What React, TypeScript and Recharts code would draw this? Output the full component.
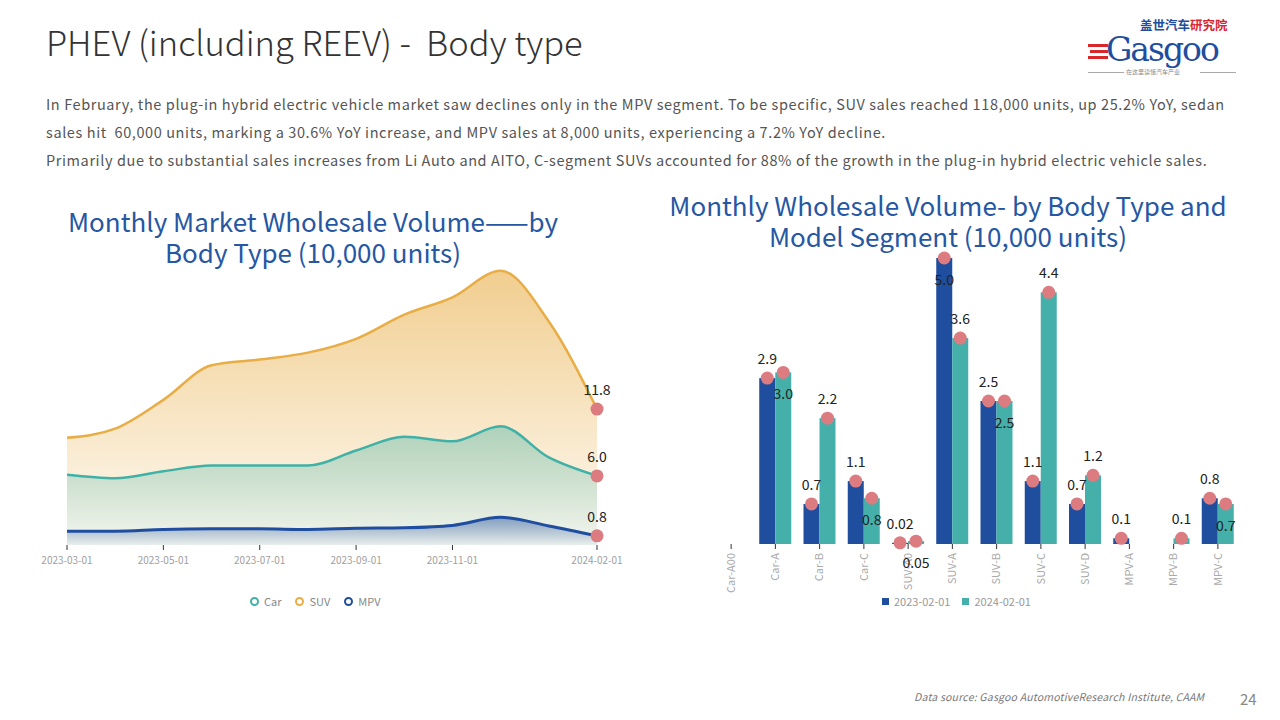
import React from 'react';
import { AreaChart, Area, BarChart, Bar, XAxis, YAxis, LabelList } from 'recharts';

// monthly wholesale by body type, 10,000 units
const months = [
  '2023-03-01', '2023-04-01', '2023-05-01', '2023-06-01', '2023-07-01', '2023-08-01',
  '2023-09-01', '2023-10-01', '2023-11-01', '2023-12-01', '2024-01-01', '2024-02-01',
];
const suvSales = [9.3, 10.1, 12.6, 15.6, 16.1, 16.7, 17.9, 20.0, 21.5, 23.8, 19.4, 11.8];
const carSales = [6.1, 5.8, 6.4, 6.9, 6.9, 6.9, 8.2, 9.4, 9.0, 10.3, 7.6, 6.0];
const mpvSales = [1.2, 1.2, 1.35, 1.4, 1.4, 1.35, 1.45, 1.5, 1.7, 2.4, 1.65, 0.8];
const monthTicks = [0, 2, 4, 6, 8, 11];

// by body type and segment
const segments = ['Car-A00', 'Car-A', 'Car-B', 'Car-C', 'SUV-A0', 'SUV-A', 'SUV-B', 'SUV-C', 'SUV-D', 'MPV-A', 'MPV-B', 'MPV-C'];
const feb2023 = [null, 2.9, 0.7, 1.1, 0.02, 5.0, 2.5, 1.1, 0.7, 0.1, null, 0.8];
const feb2024 = [null, 3.0, 2.2, 0.8, 0.05, 3.6, 2.5, 4.4, 1.2, null, 0.1, 0.7];

const FONT = '"Noto Sans CJK SC", "Noto Sans", sans-serif';
const DOT = '#dc7b80';
const C_SUV = '#e8ad45';
const C_CAR = '#3fb1a6';
const C_MPV = '#1f4ea0';
const C_DARK = '#1f4e9e';
const C_TEAL = '#45b0aa';

const areaData = months.map((m, i) => ({ idx: i, month: m, suv: suvSales[i], car: carSales[i], mpv: mpvSales[i] }));
const barData = segments.map((s, i) => ({ segment: s, y2023: feb2023[i], y2024: feb2024[i] }));

const last = months.length - 1;

const endDot = (p: any) =>
  p.index === last ? <circle key={'d' + p.index} cx={p.cx} cy={p.cy} r={6.5} fill={DOT} /> : null;

const endLabel = (p: any) => {
  if (p.index !== last) return null;
  return (
    <text x={p.x} y={p.y - 20} textAnchor="middle" dominantBaseline="central" fontSize={14} fill="#222">
      {Number(p.value).toFixed(1)}
    </text>
  );
};

const fmt = (v: number) => (v < 0.1 ? v.toFixed(2) : v.toFixed(1));

const BarWithDot = (p: any) => {
  if (p.value == null || p.height == null || isNaN(p.height)) return null;
  const v = Array.isArray(p.value) ? p.value[1] : p.value;
  if (v == null) return null;
  return (
    <g>
      <rect x={p.x} y={p.y} width={p.width} height={Math.max(p.height, 0)} fill={p.fill} />
      <circle cx={p.x + p.width / 2} cy={p.y} r={6.5} fill={DOT} />
    </g>
  );
};

const BAR_TOP = 18;

// label value is the whole row, so both series can be compared
const label2023 = (p: any) => {
  const row = p.value;
  if (!row || row.y2023 == null) return null;
  const cx = p.x + p.width / 2;
  let ty = p.y - 20;
  if (ty < BAR_TOP) ty = p.y + 21;
  return (
    <text x={cx} y={ty} textAnchor="middle" dominantBaseline="central" fontSize={14} fill="#222">
      {fmt(row.y2023)}
    </text>
  );
};

const label2024 = (p: any) => {
  const row = p.value;
  if (!row || row.y2024 == null) return null;
  const cx = p.x + p.width / 2;
  // push down when it would collide with the neighbour label
  const below = row.y2023 != null && Math.abs(row.y2023 - row.y2024) < 0.35;
  const ty = below ? p.y + 21 : p.y - 20;
  return (
    <text x={cx} y={ty} textAnchor="middle" dominantBaseline="central" fontSize={14} fill="#222">
      {fmt(row.y2024)}
    </text>
  );
};

const SegmentTick = (p: any) => (
  <text
    transform={`translate(${p.x},${p.y + 2}) rotate(-90)`}
    textAnchor="end"
    dy="0.35em"
    fontSize={11}
    fill="#aaa"
    fontFamily={FONT}
  >
    {p.payload.value}
  </text>
);

function Ring({ color }: { color: string }) {
  return (
    <span style={{ display: 'inline-block', width: 5, height: 5, borderRadius: '50%', border: `2px solid ${color}`, marginRight: 5 }} />
  );
}

function Square({ color }: { color: string }) {
  return <span style={{ display: 'inline-block', width: 7, height: 7, background: color, marginRight: 5 }} />;
}

const titleStyle: React.CSSProperties = {
  position: 'absolute',
  textAlign: 'center',
  color: '#2657a3',
  fontSize: 26,
  lineHeight: '30px',
  height: 30,
  fontFamily: FONT,
  whiteSpace: 'nowrap',
};

export default function App() {
  return (
    <div style={{ position: 'absolute', left: 0, top: 0, width: 1280, height: 720, background: '#fff', fontFamily: FONT, overflow: 'hidden' }}>
      <div style={{ position: 'absolute', left: 46, top: 18, fontSize: 34.5, lineHeight: '46px', color: '#333', fontWeight: 300, whiteSpace: 'pre' }}>
        {'PHEV (including REEV) -  Body type'}
      </div>

      {/* logo */}
      <div style={{ position: 'absolute', left: 1140, top: 17, fontSize: 12.5, fontWeight: 700, lineHeight: '15px', whiteSpace: 'nowrap' }}>
        <span style={{ color: '#1f4e9e' }}>盖世汽车</span>
        <span style={{ color: '#d9262b' }}>研究院</span>
      </div>
      <div style={{ position: 'absolute', left: 1088, top: 44, width: 20, height: 3, background: '#d9262b' }} />
      <div style={{ position: 'absolute', left: 1090, top: 50, width: 18, height: 3, background: '#d9262b' }} />
      <div style={{ position: 'absolute', left: 1088, top: 56, width: 20, height: 3, background: '#d9262b' }} />
      <div style={{ position: 'absolute', left: 1106, top: 35, fontSize: 33, lineHeight: '30px', height: 30, color: '#1f4e9e', fontFamily: '"DejaVu Serif", serif', letterSpacing: -2 }}>
        Gasgoo
      </div>
      <div style={{ position: 'absolute', left: 1088, top: 72, width: 36, height: 1, background: '#aaa' }} />
      <div style={{ position: 'absolute', left: 1200, top: 72, width: 36, height: 1, background: '#aaa' }} />
      <div style={{ position: 'absolute', left: 1126, top: 68, fontSize: 6, lineHeight: '8px', color: '#888' }}>在这里读懂汽车产业</div>

      <div style={{ position: 'absolute', left: 46, top: 90, fontSize: 14.5, lineHeight: '28px', color: '#555', whiteSpace: 'pre', letterSpacing: 0.6 }}>
        In February, the plug-in hybrid electric vehicle market saw declines only in the MPV segment. To be specific, SUV sales reached 118,000 units, up 25.2% YoY, sedan
        <br />
        {'sales hit  60,000 units, marking a 30.6% YoY increase, and MPV sales at 8,000 units, experiencing a 7.2% YoY decline.'}
        <br />
        Primarily due to substantial sales increases from Li Auto and AITO, C-segment SUVs accounted for 88% of the growth in the plug-in hybrid electric vehicle sales.
      </div>

      <div style={{ ...titleStyle, left: 13, top: 206, width: 600 }}>Monthly Market Wholesale Volume——by</div>
      <div style={{ ...titleStyle, left: 13, top: 237, width: 600 }}>Body Type (10,000 units)</div>

      <div style={{ ...titleStyle, left: 628, top: 190, width: 640 }}>Monthly Wholesale Volume- by Body Type and</div>
      <div style={{ ...titleStyle, left: 628, top: 221, width: 640 }}>Model Segment (10,000 units)</div>

      <div style={{ position: 'absolute', left: 0, top: 240 }}>
        <AreaChart width={660} height={340} data={areaData} margin={{ top: 17, right: 63, left: 67, bottom: 5 }} style={{ fontFamily: FONT }}>
          <defs>
            <linearGradient id="gSuv" x1="0" y1="0" x2="0" y2="1">
              <stop offset="0%" stopColor={C_SUV} stopOpacity={0.6} />
              <stop offset="100%" stopColor={C_SUV} stopOpacity={0.06} />
            </linearGradient>
            <linearGradient id="gCar" x1="0" y1="0" x2="0" y2="1">
              <stop offset="0%" stopColor={C_CAR} stopOpacity={0.4} />
              <stop offset="100%" stopColor={C_CAR} stopOpacity={0.05} />
            </linearGradient>
            <linearGradient id="gMpv" x1="0" y1="0" x2="0" y2="1">
              <stop offset="0%" stopColor={C_MPV} stopOpacity={0.5} />
              <stop offset="100%" stopColor={C_MPV} stopOpacity={0.05} />
            </linearGradient>
          </defs>
          <XAxis
            dataKey="idx"
            type="number"
            domain={[0, 11]}
            ticks={monthTicks}
            interval={0}
            tickFormatter={(v: number) => months[v]}
            axisLine={false}
            tickLine={{ stroke: '#333' }}
            tickSize={5}
            tickMargin={7}
            height={30}
            tick={{ fill: '#a0a0a0', fontSize: 10 }}
          />
          <YAxis hide domain={[0, 25]} />
          <Area type="monotone" dataKey="suv" stroke={C_SUV} strokeWidth={2.5} fill="url(#gSuv)" fillOpacity={1} dot={endDot} activeDot={false} isAnimationActive={false}>
            <LabelList dataKey="suv" content={endLabel} />
          </Area>
          <Area type="monotone" dataKey="car" stroke={C_CAR} strokeWidth={2.5} fill="url(#gCar)" fillOpacity={1} dot={endDot} activeDot={false} isAnimationActive={false}>
            <LabelList dataKey="car" content={endLabel} />
          </Area>
          <Area type="monotone" dataKey="mpv" stroke={C_MPV} strokeWidth={3} fill="url(#gMpv)" fillOpacity={1} dot={endDot} activeDot={false} isAnimationActive={false}>
            <LabelList dataKey="mpv" content={endLabel} />
          </Area>
        </AreaChart>
      </div>

      <div style={{ position: 'absolute', left: 250, top: 594, fontSize: 11, lineHeight: '14px', color: '#888', whiteSpace: 'nowrap', display: 'flex', alignItems: 'center' }}>
        <Ring color={C_CAR} />
        <span style={{ marginRight: 14 }}>Car</span>
        <Ring color={C_SUV} />
        <span style={{ marginRight: 14 }}>SUV</span>
        <Ring color={C_MPV} />
        <span>MPV</span>
      </div>

      <div style={{ position: 'absolute', left: 690, top: 240 }}>
        <BarChart width={570} height={364} data={barData} margin={{ top: BAR_TOP, right: 20, left: 19, bottom: 5 }} barGap={0} barSize={16} style={{ fontFamily: FONT }}>
          <XAxis
            dataKey="segment"
            interval={0}
            axisLine={false}
            tickLine={{ stroke: '#333' }}
            tickSize={5}
            height={55}
            tick={<SegmentTick />}
          />
          <YAxis hide domain={[0, 5]} />
          <Bar dataKey="y2023" fill={C_DARK} shape={BarWithDot} isAnimationActive={false}>
            <LabelList dataKey={(d: any) => d} content={label2023} />
          </Bar>
          <Bar dataKey="y2024" fill={C_TEAL} shape={BarWithDot} isAnimationActive={false}>
            <LabelList dataKey={(d: any) => d} content={label2024} />
          </Bar>
        </BarChart>
      </div>

      <div style={{ position: 'absolute', left: 882, top: 594, fontSize: 11, lineHeight: '14px', color: '#999', whiteSpace: 'nowrap', display: 'flex', alignItems: 'center' }}>
        <Square color={C_DARK} />
        <span style={{ marginRight: 12 }}>2023-02-01</span>
        <Square color={C_TEAL} />
        <span>2024-02-01</span>
      </div>

      <div style={{ position: 'absolute', left: 914, top: 690, fontSize: 10.5, lineHeight: '14px', color: '#777', fontStyle: 'italic', whiteSpace: 'nowrap', letterSpacing: 0.2 }}>
        Data source: Gasgoo AutomotiveResearch Institute, CAAM
      </div>
      <div style={{ position: 'absolute', left: 1240, top: 690, fontSize: 15, lineHeight: '18px', color: '#888' }}>24</div>
    </div>
  );
}
